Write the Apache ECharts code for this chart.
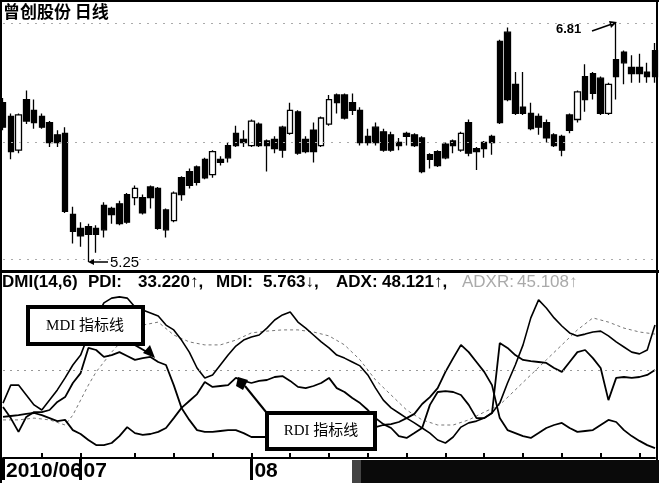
<!DOCTYPE html>
<html><head><meta charset="utf-8">
<script src="https://cdn.jsdelivr.net/npm/echarts@6/dist/echarts.min.js"></script>
<style>html,body{margin:0;padding:0;background:#fff}#c{width:659px;height:483px}</style>
</head><body><div id="c"></div>
<script>
// ---- data ----
// daily candles [open, close, low, high]
const candles = [
[6.29,6.13,6.11,6.32],[6.20,5.97,5.92,6.22],[5.98,6.21,5.96,6.22],[6.31,6.17,6.15,6.37],[6.24,6.16,6.12,6.31],
[6.20,6.13,6.12,6.22],[6.16,6.03,6.00,6.17],[6.08,6.03,6.00,6.11],[6.09,5.58,5.57,6.13],[5.56,5.45,5.37,5.61],
[5.47,5.42,5.35,5.51],[5.48,5.43,5.25,5.50],[5.47,5.43,5.31,5.49],[5.62,5.46,5.41,5.64],[5.60,5.56,5.50,5.61],
[5.63,5.50,5.49,5.65],[5.69,5.51,5.50,5.70],[5.67,5.73,5.62,5.75],[5.67,5.57,5.56,5.69],[5.74,5.67,5.60,5.75],
[5.73,5.47,5.46,5.74],[5.59,5.46,5.41,5.60],[5.52,5.70,5.51,5.71],[5.80,5.69,5.65,5.81],[5.84,5.75,5.73,5.86],
[5.87,5.77,5.75,5.88],[5.92,5.80,5.79,5.93],[5.82,5.97,5.80,5.98],[5.92,5.90,5.88,5.94],[6.01,5.93,5.90,6.03],
[6.09,6.01,6.00,6.14],[6.05,6.03,6.00,6.11],[6.01,6.17,6.00,6.18],[6.15,6.01,6.00,6.16],[6.04,6.01,5.84,6.05],
[6.05,5.99,5.96,6.07],[6.13,5.98,5.93,6.14],[6.09,6.24,6.08,6.29],[6.23,5.96,5.95,6.24],[6.05,5.97,5.96,6.07],
[6.11,5.97,5.90,6.16],[6.01,6.19,6.00,6.20],[6.15,6.31,6.14,6.34],[6.34,6.29,6.22,6.35],[6.34,6.19,6.18,6.35],
[6.29,6.24,6.21,6.35],[6.24,6.03,6.01,6.26],[6.07,6.03,6.01,6.12],[6.13,6.03,6.01,6.16],[6.10,5.98,5.97,6.12],
[6.08,5.98,5.97,6.10],[6.03,6.01,5.98,6.06],[6.09,6.07,6.01,6.10],[6.08,6.01,6.00,6.09],[6.06,5.84,5.83,6.07],
[5.95,5.92,5.86,5.96],[5.97,5.88,5.87,5.98],[6.02,5.93,5.92,6.03],[6.04,6.01,5.96,6.05],[5.98,6.09,5.97,6.10],
[6.16,5.96,5.94,6.18],[5.99,5.97,5.85,6.00],[6.03,5.99,5.93,6.04],[6.07,6.03,5.95,6.08],[6.69,6.16,6.15,6.70],
[6.75,6.31,6.30,6.78],[6.41,6.22,6.21,6.49],[6.26,6.22,6.21,6.49],[6.22,6.12,6.11,6.29],[6.20,6.13,6.08,6.22],
[6.16,6.06,6.03,6.18],[6.08,6.01,6.00,6.09],[6.07,5.98,5.94,6.08],[6.21,6.11,6.09,6.22],[6.18,6.36,6.16,6.37],
[6.46,6.31,6.23,6.54],[6.48,6.35,6.31,6.49],[6.45,6.22,6.21,6.46],[6.22,6.41,6.21,6.42],[6.57,6.46,6.31,6.81],
[6.62,6.55,6.41,6.63],[6.52,6.48,6.42,6.60],[6.52,6.48,6.42,6.61],[6.49,6.46,6.42,6.55],[6.63,6.46,6.42,6.68]
];
const pdi = [15.7,16,16.3,16.7,17,16.3,15.3,14.3,14.7,11.3,10,8,6.3,6.3,7,9.3,12.3,10.3,9.7,10,
  10.7,12,15.3,18.7,21,23.3,27.3,25.7,26,26.3,28.7,27.7,27,27.7,28,29,29.3,27.7,25.7,25.3,
  26,27,28.7,25.3,24,22,20.3,18,15.3,13.3,12,9.3,8.7,10.3,12,19.7,24,24.3,24,23,
  19.7,15.3,15.3,17,40.3,38.7,36.3,34.7,34.3,34,33.7,32,30.7,34,37.3,38,35.3,32,21.3,28.7,
  29,28.7,29,29.7,31.3];
const mdi = [19,15.3,10.7,15.7,17.3,17.3,18,20.7,22.3,27,30.3,38.7,38,35.7,36.3,37.3,36,34.7,35.3,35.7,
  34,33,26.3,18.7,14.7,11.3,10.7,10.7,11,11.3,11.3,10.3,9,9,9,9.7,10,9.3,9.7,10.3,
  10.7,10.7,10,10.7,11.3,12,12.3,12.7,12.3,13,13.3,14,15.3,16.7,20,22.3,25.3,30.7,35.3,39.7,
  37.3,34,30.7,26.3,15.3,11.3,10.3,9.3,8.7,10.3,12,13,13.7,12,10.7,11,11.3,13,14.7,14,
  11.3,9.3,7.7,6.3,5.3];
const adx = [20.3,26.3,26.3,23,19.7,18,21.3,24.7,28.7,33,36.3,43,48.7,53.7,55.3,55.7,55.3,52.3,51.3,50.3,
  49.3,46.3,44.7,41.3,37.3,32,28.7,29.7,33,36.3,39.3,41.3,42.3,43,45.3,48,49.7,50.7,47.3,45.3,
  43,40.7,38.7,36.3,35.3,34,32.7,29.7,25.3,21.3,18.7,17,15.3,13.7,12,10.3,8,7,9,12.3,
  13.7,14.3,15.3,17,20.3,27,33,39.7,48.7,54.7,52,48.7,46,43.7,42.7,43.3,44,44.3,42.7,40.7,
  39,37.3,36.7,38,46.3];
const adxr = [14.7,null,14.7,null,15.3,null,14.7,null,13,16.3,21.3,26.3,30.7,null,37.3,null,43,null,46.3,null,
  47.3,null,43,null,40.7,null,39.7,null,39.7,null,41.3,null,43.7,null,44.3,null,44.7,null,44.7,null,
  44,null,42.7,null,39.7,null,34.7,null,28,null,23,null,18,null,14.7,null,13,null,13,null,
  14.7,null,17.3,null,19.7,null,24.7,null,29.7,null,34.7,null,39.7,null,44.7,null,48.7,null,47.3,null,
  45.3,null,44,null,43.3];
const monthStart = [0, 10, 32];
const monthLabels = ['2010/06', '07', '08'];
const weekTicks = [5,10,17,22,27,32,37,42,47,52,57,62,67,72,77,82];
const priceGrid = [6.81, 6.03, 5.27];
const dmiGrid = [31.3];
const headerItems = [
  ['DMI(14,6)', 2, '#000', 'bold'], ['PDI:', 88, '#000', 'bold'], ['33.220\u2191,', 138, '#000', 'bold'],
  ['MDI:', 216, '#000', 'bold'], ['5.763\u2193,', 263, '#000', 'bold'], ['ADX:', 336, '#000', 'bold'],
  ['48.121\u2191,', 382, '#000', 'bold'], ['ADXR:', 462, '#aaa', 'normal'], ['45.108\u2191', 517, '#aaa', 'normal']
];
// ---- chart ----
const cats = candles.map((d, i) => String(i + 1));
const chart = echarts.init(document.getElementById('c'), null, {renderer: 'canvas'});
const lineS = (name, data, color, width, type) => ({
  name, type: 'line', xAxisIndex: 1, yAxisIndex: 1, data, connectNulls: true, symbol: 'none',
  lineStyle: {color, width, type}, z: 3
});
const graphics = [
  {type: 'rect', shape: {x: 0, y: 0, width: 2, height: 483}, style: {fill: '#000'}},
  {type: 'rect', shape: {x: 656, y: 0, width: 2, height: 460}, style: {fill: '#000'}},
  {type: 'rect', shape: {x: 0, y: 0, width: 659, height: 2}, style: {fill: '#000'}},
  {type: 'rect', shape: {x: 0, y: 270, width: 659, height: 3}, style: {fill: '#000'}},
  {type: 'rect', shape: {x: 352, y: 460, width: 307, height: 23}, style: {fill: '#0a0a0a'}},
  {type: 'rect', shape: {x: 352, y: 460, width: 9, height: 23}, style: {fill: '#444'}},
  {type: 'text', x: 3, y: 3, style: {text: '曾创股份 日线', font: 'bold 17px "Noto Sans CJK SC"', fill: '#000'}},
  // 5.25 marker
  {type: 'line', shape: {x1: 90, y1: 262, x2: 108, y2: 262}, style: {stroke: '#000', lineWidth: 1.5}},
  {type: 'polygon', shape: {points: [[88, 262], [94, 259], [94, 265]]}, style: {fill: '#000'}},
  {type: 'text', x: 110, y: 255, style: {text: '5.25', font: '15px "Liberation Sans"', fill: '#000'}},
  // 6.81 marker
  {type: 'text', x: 556, y: 23, style: {text: '6.81', font: 'bold 13px "Liberation Sans"', fill: '#000'}},
  {type: 'line', shape: {x1: 592, y1: 31, x2: 612, y2: 24}, style: {stroke: '#000', lineWidth: 1.5}},
  {type: 'polygon', shape: {points: [[617, 22], [609, 21], [611, 28]]}, style: {fill: '#000'}},
  // MDI callout
  {type: 'rect', z: 10, shape: {x: 28, y: 307, width: 115, height: 37}, style: {fill: '#fff', stroke: '#000', lineWidth: 4}},
  {type: 'text', z: 11, x: 85, y: 326, style: {text: 'MDI 指标线', font: '15px "Liberation Serif","Noto Sans CJK SC"', fill: '#000', align: 'center', verticalAlign: 'middle'}},
  {type: 'line', z: 10, shape: {x1: 133, y1: 344, x2: 147, y2: 352}, style: {stroke: '#000', lineWidth: 2}},
  {type: 'polygon', z: 10, shape: {points: [[155, 358], [143, 353], [150, 345]]}, style: {fill: '#000'}},
  // RDI callout
  {type: 'rect', z: 10, shape: {x: 267, y: 413, width: 108, height: 36}, style: {fill: '#fff', stroke: '#000', lineWidth: 4}},
  {type: 'text', z: 11, x: 321, y: 431, style: {text: 'RDI 指标线', font: '15px "Liberation Serif","Noto Sans CJK SC"', fill: '#000', align: 'center', verticalAlign: 'middle'}},
  {type: 'line', z: 10, shape: {x1: 266, y1: 412, x2: 245, y2: 386}, style: {stroke: '#000', lineWidth: 2}},
  {type: 'polygon', z: 10, shape: {points: [[238, 377], [248, 380], [243, 390], [236, 386]]}, style: {fill: '#000'}}
];
headerItems.forEach(h => graphics.push({type: 'text', x: h[1], y: 274, style: {text: h[0], font: h[3] + ' 17px "Liberation Sans"', fill: h[2]}}));
chart.setOption({
  animation: false,
  backgroundColor: '#fff',
  grid: [
    {left: 3, width: 652, top: 23, height: 239},
    {left: 3, width: 652, top: 290, height: 168}
  ],
  xAxis: [
    {type: 'category', gridIndex: 0, data: cats, boundaryGap: false, axisLine: {show: false}, axisTick: {show: false}, axisLabel: {show: false}},
    {type: 'category', gridIndex: 1, data: cats, boundaryGap: false,
      axisLine: {lineStyle: {color: '#000', width: 2}},
      axisTick: {inside: true, length: 5, lineStyle: {color: '#000', width: 2}, interval: (i) => weekTicks.includes(i)},
      axisLabel: {show: false}},
    {type: 'category', gridIndex: 1, data: cats, boundaryGap: false, position: 'bottom',
      axisLine: {show: false},
      axisTick: {show: true, inside: false, length: 22, lineStyle: {color: '#000', width: 3}, interval: (i) => monthStart.includes(i)},
      axisLabel: {interval: (i) => monthStart.includes(i), showMinLabel: true, hideOverlap: false, margin: 3, align: 'left', padding: [0, 0, 0, 3],
        formatter: (v, i) => { const k = monthStart.indexOf(Number(v) - 1); return k >= 0 ? monthLabels[k] : ''; },
        fontFamily: '"Liberation Sans Narrow","Liberation Sans"', fontWeight: 'bold', fontSize: 21, color: '#000'}}
  ],
  yAxis: [
    {type: 'value', gridIndex: 0, min: 5.25, max: 6.81, show: false, splitLine: {show: false}},
    {type: 'value', gridIndex: 1, min: 2, max: 58, show: false, splitLine: {show: false}}
  ],
  series: [
    {type: 'candlestick', xAxisIndex: 0, yAxisIndex: 0, data: candles, barWidth: 6, clip: true,
      itemStyle: {color: '#fff', color0: '#000', borderColor: '#000', borderColor0: '#000', borderWidth: 1.3},
      markLine: {silent: true, symbol: 'none', label: {show: false}, lineStyle: {color: '#aaa', type: [2, 6], width: 1},
        data: priceGrid.map(v => ({yAxis: v}))}},
    lineS('ADXR', adxr, '#777', 1, [3, 3]),
    lineS('ADX', adx, '#000', 1.6, 'solid'),
    lineS('PDI', pdi, '#000', 1.8, 'solid'),
    Object.assign(lineS('MDI', mdi, '#000', 1.8, 'solid'), {markLine: {silent: true, symbol: 'none', label: {show: false}, lineStyle: {color: '#999', type: [2, 5], width: 1}, data: dmiGrid.map(v => ({yAxis: v}))}})
  ],
  graphic: graphics
});
</script></body></html>
